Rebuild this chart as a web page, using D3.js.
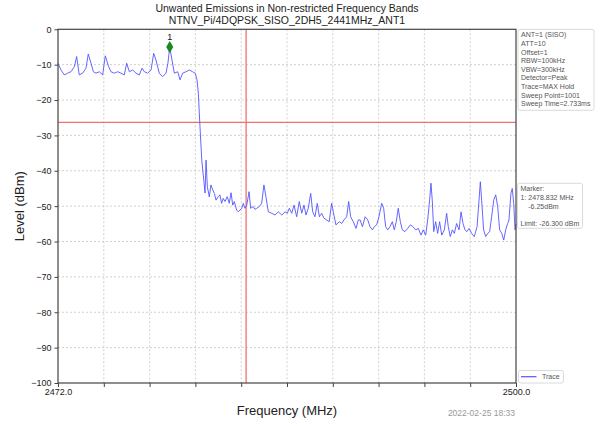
<!DOCTYPE html>
<html>
<head>
<meta charset="UTF-8">
<script src="https://d3js.org/d3.v7.min.js"></script>
<style>
  body { margin: 0; background: #fff; }
  svg { font-family: "Liberation Sans", Arial, sans-serif; }
</style>
</head>
<body>
<svg id="chart"></svg>
<script>
const width = 602, height = 426;
const margin = { top: 29.3, right: 86, bottom: 43, left: 58 };

const titleLines = ["Unwanted Emissions in Non-restricted Frequency Bands", "NTNV_Pi/4DQPSK_SISO_2DH5_2441MHz_ANT1"];
const freqDomain = [2472, 2500];
const levelTicks = [0, -10, -20, -30, -40, -50, -60, -70, -80, -90, -100];
const freqTicks = [2472, 2474.8, 2477.6, 2480.4, 2483.2, 2486, 2488.8, 2491.6, 2494.4, 2497.2, 2500];
const freqTickLabels = ["2472.0", "", "", "", "", "", "", "", "", "", "2500.0"];
const limitLevel = -26.3;
const restrictedEdge = 2483.5;
const marker = { label: "1", freq: 2478.83, level: -5.0 };
const infoLines = ["ANT=1 (SISO)", "ATT=10", "Offset=1", "RBW=100kHz", "VBW=300kHz", "Detector=Peak", "Trace=MAX Hold", "Sweep Point=1001", "Sweep Time=2.733ms"];
const markerLines = ["Marker:", "1: 2478.832 MHz", "    -6.25dBm", "", "Limit: -26.300 dBm"];
const timestamp = "2022-02-25 18:33";

// [MHz, dBm]
const trace = [
  [2472.00, -9.6], [2472.18, -11.5], [2472.39, -12.9], [2472.59, -12.4], [2472.79, -12.0],
  [2473.00, -10.6], [2473.14, -7.7], [2473.30, -12.9], [2473.51, -12.4], [2473.71, -11.0],
  [2473.85, -7.0], [2474.02, -9.6], [2474.16, -12.0], [2474.32, -12.4], [2474.53, -12.0],
  [2474.73, -12.9], [2474.89, -7.5], [2475.10, -10.6], [2475.24, -12.0], [2475.44, -12.4],
  [2475.65, -12.0], [2475.85, -12.4], [2476.05, -12.9], [2476.20, -9.6], [2476.36, -12.0],
  [2476.57, -11.5], [2476.77, -12.4], [2476.97, -12.9], [2477.14, -11.0], [2477.28, -12.0],
  [2477.48, -12.4], [2477.69, -11.5], [2477.85, -6.8], [2477.99, -8.7], [2478.19, -12.4],
  [2478.40, -13.4], [2478.60, -12.4], [2478.72, -9.6], [2478.83, -5.0], [2478.97, -8.7],
  [2479.11, -12.4], [2479.32, -12.0], [2479.46, -14.3], [2479.62, -12.4], [2479.83, -12.0],
  [2480.03, -11.5], [2480.23, -12.0], [2480.39, -12.4], [2480.50, -14.3], [2480.58, -18.1],
  [2480.68, -27.5], [2480.79, -37.0], [2480.85, -39.8], [2480.93, -43.4], [2480.99, -46.3],
  [2481.05, -37.0], [2481.13, -44.5], [2481.25, -47.4], [2481.35, -44.0], [2481.46, -45.4],
  [2481.56, -46.4], [2481.66, -48.3], [2481.80, -47.3], [2481.90, -46.8], [2482.00, -49.2],
  [2482.10, -47.8], [2482.21, -48.7], [2482.35, -47.3], [2482.47, -49.2], [2482.58, -46.2],
  [2482.68, -49.7], [2482.78, -48.7], [2482.92, -51.1], [2483.02, -51.6], [2483.13, -51.1],
  [2483.23, -50.6], [2483.33, -49.2], [2483.43, -50.6], [2483.54, -49.7], [2483.68, -45.9],
  [2483.78, -50.6], [2483.94, -50.1], [2484.04, -50.9], [2484.15, -50.6], [2484.31, -50.1],
  [2484.45, -49.2], [2484.59, -44.0], [2484.71, -47.3], [2484.86, -51.6], [2485.06, -52.0],
  [2485.27, -52.5], [2485.47, -51.6], [2485.68, -52.5], [2485.88, -51.6], [2486.02, -52.0],
  [2486.14, -50.6], [2486.29, -52.0], [2486.43, -49.7], [2486.59, -53.0], [2486.75, -48.7],
  [2486.90, -52.0], [2487.04, -49.7], [2487.16, -52.5], [2487.30, -50.6], [2487.45, -46.4],
  [2487.57, -51.6], [2487.71, -53.0], [2487.85, -49.2], [2487.98, -53.0], [2488.12, -52.0],
  [2488.26, -53.4], [2488.42, -53.9], [2488.58, -54.4], [2488.73, -49.2], [2488.83, -51.6],
  [2488.99, -55.3], [2489.20, -54.4], [2489.34, -54.9], [2489.48, -53.9], [2489.65, -53.0],
  [2489.77, -48.7], [2489.89, -53.0], [2490.05, -54.4], [2490.22, -56.3], [2490.36, -53.9],
  [2490.47, -53.9], [2490.61, -55.8], [2490.78, -53.0], [2490.94, -53.9], [2491.07, -55.8],
  [2491.22, -56.7], [2491.34, -55.8], [2491.48, -55.3], [2491.62, -53.0], [2491.79, -49.2],
  [2491.91, -50.6], [2492.03, -55.8], [2492.16, -56.7], [2492.30, -55.8], [2492.44, -54.4],
  [2492.56, -56.7], [2492.68, -54.4], [2492.80, -50.6], [2492.93, -54.4], [2493.05, -56.7],
  [2493.21, -57.2], [2493.38, -56.3], [2493.54, -55.3], [2493.70, -55.8], [2493.87, -56.7],
  [2494.03, -56.3], [2494.19, -58.2], [2494.33, -56.7], [2494.48, -58.2], [2494.60, -53.9],
  [2494.72, -48.3], [2494.80, -43.5], [2494.88, -48.3], [2494.97, -57.2], [2495.09, -54.4],
  [2495.21, -57.7], [2495.33, -54.4], [2495.46, -58.2], [2495.62, -56.7], [2495.76, -52.0],
  [2495.86, -55.8], [2495.98, -58.6], [2496.11, -56.7], [2496.23, -57.7], [2496.37, -54.9],
  [2496.52, -56.7], [2496.64, -51.6], [2496.76, -54.9], [2496.88, -56.7], [2497.00, -57.2],
  [2497.13, -56.3], [2497.29, -57.7], [2497.45, -58.6], [2497.62, -55.8], [2497.74, -48.3],
  [2497.82, -43.1], [2497.90, -48.3], [2498.02, -56.7], [2498.15, -58.6], [2498.27, -57.7],
  [2498.39, -57.2], [2498.51, -53.0], [2498.64, -48.3], [2498.76, -46.8], [2498.88, -50.1],
  [2499.00, -56.7], [2499.13, -57.7], [2499.25, -59.6], [2499.37, -56.7], [2499.49, -54.9],
  [2499.57, -53.9], [2499.69, -46.4], [2499.77, -45.0], [2499.86, -49.2], [2499.94, -56.7],
  [2500.00, -55.0]
];

const svg = d3.select("#chart").attr("width", width).attr("height", height);

const x = d3.scaleLinear().domain(freqDomain).range([margin.left, width - margin.right]);
const y = d3.scaleLinear().domain([-100, 0]).range([height - margin.bottom, margin.top]);

// title
svg.append("g").selectAll("text")
  .data(titleLines)
  .join("text")
    .attr("x", (x.range()[0] + x.range()[1]) / 2)
    .attr("y", (d, i) => 12 + i * 12)
    .attr("text-anchor", "middle")
    .attr("font-size", 10.5)
    .attr("fill", "#222")
    .text(d => d);

// grid
const grid = svg.append("g")
  .attr("stroke", "#c4c4c4")
  .attr("stroke-width", 0.8)
  .attr("stroke-dasharray", "2,2");
grid.selectAll(".gx")
  .data(freqTicks.slice(1, -1))
  .join("line")
    .attr("x1", d => x(d)).attr("x2", d => x(d))
    .attr("y1", y(0)).attr("y2", y(-100));
grid.selectAll(".gy")
  .data(levelTicks.slice(1, -1))
  .join("line")
    .attr("x1", x(freqDomain[0])).attr("x2", x(freqDomain[1]))
    .attr("y1", d => y(d)).attr("y2", d => y(d));

// limit and band edge
svg.append("line")
  .attr("x1", x(freqDomain[0])).attr("x2", x(freqDomain[1]))
  .attr("y1", y(limitLevel)).attr("y2", y(limitLevel))
  .attr("stroke", "#f07070").attr("stroke-width", 1.3);
svg.append("line")
  .attr("x1", x(restrictedEdge)).attr("x2", x(restrictedEdge))
  .attr("y1", y(0)).attr("y2", y(-100))
  .attr("stroke", "#f07070").attr("stroke-width", 1.3);

// trace
svg.append("path")
  .datum(trace)
  .attr("fill", "none")
  .attr("stroke", "#5555ff")
  .attr("stroke-width", 0.9)
  .attr("d", d3.line().x(d => x(d[0])).y(d => y(d[1])));

// marker
svg.append("path")
  .attr("transform", `translate(${x(marker.freq)},${y(marker.level)})`)
  .attr("d", d3.symbol(d3.symbolDiamond, 34)())
  .attr("fill", "#1a8a1a")
  .attr("stroke", "#0d6b0d")
  .attr("stroke-width", 0.6);
svg.append("text")
  .attr("x", x(marker.freq))
  .attr("y", y(marker.level) - 7)
  .attr("text-anchor", "middle")
  .attr("font-size", 9)
  .attr("fill", "#111")
  .text(marker.label);

// axes
const yAxis = svg.append("g")
  .attr("transform", `translate(${margin.left},0)`)
  .call(d3.axisLeft(y).tickValues(levelTicks).tickSize(3.5).tickPadding(3)
    .tickFormat(d => d < 0 ? "\u2212" + Math.abs(d) : d));
const xAxis = svg.append("g")
  .attr("transform", `translate(0,${height - margin.bottom})`)
  .call(d3.axisBottom(x).tickValues(freqTicks).tickSize(4).tickPadding(2)
    .tickFormat((d, i) => freqTickLabels[i]));
[yAxis, xAxis].forEach(g => {
  g.select(".domain").remove();
  g.selectAll(".tick line").attr("stroke", "#444");
  g.selectAll(".tick text").attr("font-size", 9).attr("fill", "#222")
    .attr("font-family", "Liberation Sans, Arial, sans-serif");
});

// frame
svg.append("rect")
  .attr("x", x(freqDomain[0])).attr("y", y(0))
  .attr("width", x(freqDomain[1]) - x(freqDomain[0]))
  .attr("height", y(-100) - y(0))
  .attr("fill", "none").attr("stroke", "#444").attr("stroke-width", 1.2);

// axis titles
svg.append("text")
  .attr("x", (x.range()[0] + x.range()[1]) / 2)
  .attr("y", 415)
  .attr("text-anchor", "middle")
  .attr("font-size", 13)
  .attr("fill", "#222")
  .text("Frequency (MHz)");
svg.append("text")
  .attr("transform", `translate(24,${(y.range()[0] + y.range()[1]) / 2}) rotate(-90)`)
  .attr("text-anchor", "middle")
  .attr("font-size", 13)
  .attr("fill", "#222")
  .text("Level (dBm)");

svg.append("text")
  .attr("x", 515).attr("y", 416)
  .attr("text-anchor", "end")
  .attr("font-size", 8.5)
  .attr("fill", "#999")
  .text(timestamp);

// side boxes
function textBox(lines, bx, by, bw, bh, step) {
  const g = svg.append("g");
  g.append("rect")
    .attr("x", bx).attr("y", by).attr("width", bw).attr("height", bh)
    .attr("rx", 2).attr("fill", "#fff").attr("stroke", "#d0d0d0").attr("stroke-width", 0.8);
  g.selectAll("text")
    .data(lines)
    .join("text")
      .attr("x", bx + 3)
      .attr("y", (d, i) => by + 8 + i * step)
      .attr("font-size", 7)
      .attr("fill", "#555")
      .attr("xml:space", "preserve")
      .style("white-space", "pre")
      .text(d => d);
}
textBox(infoLines, 518, 29.3, 76, 81, 8.6);
textBox(markerLines, 517.5, 183.3, 65, 45, 8.6);

// legend
const legend = svg.append("g");
legend.append("rect")
  .attr("x", 518.5).attr("y", 370.5).attr("width", 45).attr("height", 12.5)
  .attr("rx", 2).attr("fill", "#fff").attr("stroke", "#d0d0d0").attr("stroke-width", 0.8);
legend.append("line")
  .attr("x1", 521).attr("x2", 536.5).attr("y1", 376.7).attr("y2", 376.7)
  .attr("stroke", "#5555ff").attr("stroke-width", 1.2);
legend.append("text")
  .attr("x", 542).attr("y", 379.3)
  .attr("font-size", 7)
  .attr("fill", "#555")
  .text("Trace");
</script>
</body>
</html>
